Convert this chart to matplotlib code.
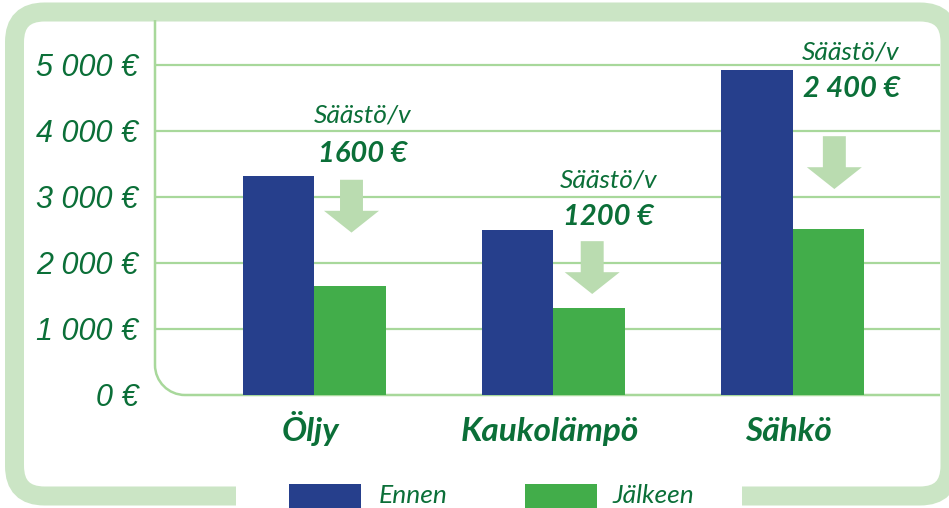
import numpy as np
import matplotlib
matplotlib.use("Agg")
import matplotlib.pyplot as plt
from matplotlib.patches import FancyBboxPatch, Rectangle, Polygon, PathPatch
from matplotlib.path import Path

# ----------------- data -----------------
categories = ["Öljy", "Kaukolämpö", "Sähkö"]
ennen = [3320, 2500, 4920]
jalkeen = [1650, 1320, 2520]
saasto_labels = ["1600 €", "1200 €", "2 400 €"]
yticks = [0, 1000, 2000, 3000, 4000, 5000]
ytick_labels = ["0 €", "1 000 €", "2 000 €", "3 000 €", "4 000 €", "5 000 €"]
legend_labels = ["Ennen", "Jälkeen"]
# annotation placement (data units): arrow top, label baseline, value baseline
arrow_top = [3260, 2330, 3920]
label_y = [4120, 3150, 5075]
value_y = [3530, 2575, 4515]
# ----------------------------------------

BLUE = "#263f8c"
GREEN = "#42ad4a"
DARK = "#0b6f38"
GRID = "#a8d89b"
BORDER = "#cbe5c5"
ARROW = "#badcb0"

W, H = 949, 508
fig = plt.figure(figsize=(W / 100, H / 100), dpi=100)
fig.patch.set_facecolor("white")

# outer rounded frame (pixel coords)
frame = FancyBboxPatch((14.5, H - 496), 950 - 14.5, 496 - 12,
                       boxstyle="round,pad=0,rounding_size=30",
                       transform=None, facecolor="none", edgecolor=BORDER,
                       linewidth=19 * 0.72, zorder=0)
fig.add_artist(frame)
fig.add_artist(Rectangle((236 / W, 0), (742 - 236) / W, 30 / H,
                         transform=fig.transFigure, facecolor="white",
                         edgecolor="none", zorder=1))

ax_l, ax_b, ax_w, ax_h = 155, H - 395, 785, 375
ax = fig.add_axes([ax_l / W, ax_b / H, ax_w / W, ax_h / H])
ax.set_facecolor("none")
ax.set_xlim(-0.667, 2.617)
ax.set_ylim(0, 5680)
for s in ax.spines.values():
    s.set_visible(False)

x = np.arange(len(categories))
bw = 0.3
for t in yticks[1:]:
    ax.axhline(t, color=GRID, lw=1.6, zorder=1)

# left + bottom axis line with rounded corner
rx, ry = 30 / ax_w, 30 / ax_h
k = 0.5523
verts = [(0, 1), (0, ry), (0, ry * (1 - k)), (rx * (1 - k), 0), (rx, 0), (1, 0)]
codes = [Path.MOVETO, Path.LINETO, Path.CURVE4, Path.CURVE4, Path.CURVE4, Path.LINETO]
ax.add_patch(PathPatch(Path(verts, codes), transform=ax.transAxes,
                       facecolor="none", edgecolor=GRID, lw=1.8, zorder=1,
                       clip_on=False))

ax.bar(x - bw / 2, ennen, bw, color=BLUE, zorder=3)
ax.bar(x + bw / 2, jalkeen, bw, color=GREEN, zorder=3)

ax.set_yticks(yticks)
ax.set_yticklabels(ytick_labels, fontsize=22, color=DARK,
                   family="Liberation Sans", style="italic")
ax.tick_params(axis="y", length=0, pad=12)
for lbl in ax.get_yticklabels():
    lbl.set_y(lbl.get_position()[1])
ax.set_xticks([])

# savings arrows and labels
ex_x = [0.155, 0.162, 0.175]
lab_x = [0.2, 0.23, 0.245]
alen, hlen, hw, sw = 800, 330, 0.115, 0.048
for i in range(len(categories)):
    cx = x[i] + ex_x[i]
    top = arrow_top[i]
    tip = top - alen
    neck = tip + hlen
    pts = [(cx - sw, top), (cx + sw, top), (cx + sw, neck), (cx + hw, neck),
           (cx, tip), (cx - hw, neck), (cx - sw, neck)]
    ax.add_patch(Polygon(pts, closed=True, facecolor=ARROW, edgecolor="none", zorder=4))
    ax.text(x[i] + lab_x[i], label_y[i], "Säästö/v", ha="center", va="baseline",
            fontsize=19, color=DARK, family="Lato", style="italic", zorder=5)
    ax.text(x[i] + lab_x[i], value_y[i], saasto_labels[i], ha="center", va="baseline",
            fontsize=21, color=DARK, family="Lato", style="italic",
            fontweight="bold", zorder=5)
    ax.annotate(categories[i], xy=(x[i], 0), xytext=(-4, -46),
                textcoords="offset pixels", ha="center", va="baseline",
                fontsize=24, color=DARK, family="Lato", style="italic",
                fontweight="bold", annotation_clip=False)

# legend
for px, col, lab, tx in [(289, BLUE, legend_labels[0], 379), (525, GREEN, legend_labels[1], 612)]:
    fig.add_artist(Rectangle((px / W, 0), 72 / W, 24 / H, transform=fig.transFigure,
                             facecolor=col, edgecolor="none", zorder=2))
    fig.text(tx / W, 5 / H, lab, ha="left", va="baseline", fontsize=19,
             color=DARK, family="Lato", style="italic", zorder=2)

fig.savefig("out.png", dpi=100)
